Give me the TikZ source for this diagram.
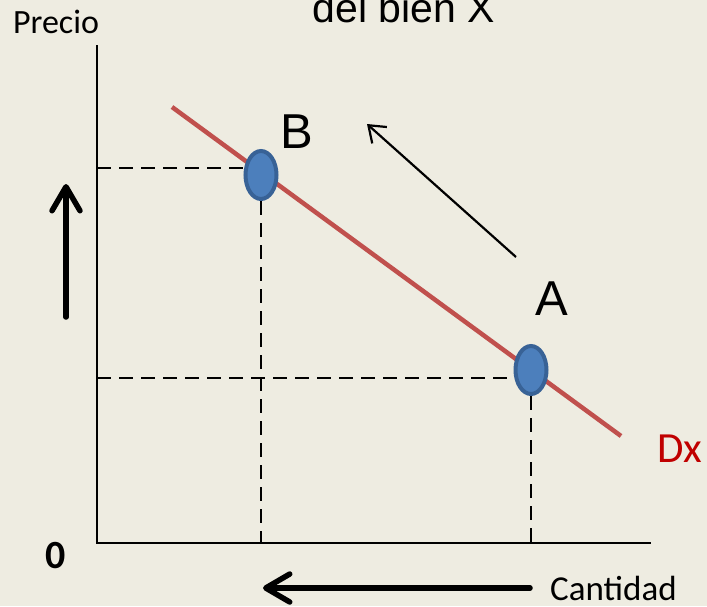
\documentclass[tikz,border=0pt]{standalone}
\usepackage{fontspec}
\setmainfont{Carlito}
\newfontfamily\arialf{Liberation Sans}
\usetikzlibrary{shapes.geometric,arrows.meta}
\definecolor{bg}{RGB}{238,236,225}
\definecolor{dline}{RGB}{192,80,77}
\definecolor{ptfill}{RGB}{76,127,188}
\definecolor{ptdraw}{RGB}{56,98,150}
\definecolor{dxred}{RGB}{192,0,0}
\tikzset{
  axisline/.style={line width=2pt, black},
  guide/.style={line width=2.2pt, black, dash pattern=on 14pt off 8pt},
  demand/.style={line width=4.5pt, dline},
  pointnode/.style={ellipse, draw=ptdraw, fill=ptfill, line width=4pt, minimum width=31pt, minimum height=48pt, inner sep=0pt},
  bigarrow/.style={line width=5.5pt, line cap=round, -{Straight Barb[length=24pt,width=28pt,line cap=round,round]}},
  thinarrow/.style={line width=2.2pt, -{Straight Barb[length=15pt,width=22pt]}},
  lbl/.style={inner sep=0pt, anchor=base}
}
\begin{document}
\begin{tikzpicture}[x=1pt,y=-1pt]
\fill[bg] (0,0) rectangle (707,606);
\useasboundingbox (0,0) rectangle (707,606);

% axes
\coordinate (ytop) at (97,45);
\coordinate (orig) at (97,543);
\coordinate (xend) at (651,543);
\draw[axisline] (ytop) -- (orig) -- (xend);

% dashed guides
\coordinate (gBl) at (97,168);
\coordinate (gBr) at (246,168);
\coordinate (gAl) at (97,378);
\coordinate (gAr) at (516,378);
\coordinate (gBb) at (261,543);
\coordinate (gAb) at (531,543);
\draw[guide] (gBl) -- (gBr);
\draw[guide] (gAl) -- (gAr);

% demand curve
\coordinate (dS) at (172,107);
\coordinate (dE) at (621,436);
\draw[demand] (dS) -- (dE);

% points
\node[pointnode] (pB) at (261,175) {};
\node[pointnode] (pA) at (531,370) {};
\draw[guide] (pB.south) -- (gBb);
\draw[guide] (pA.south) -- (gAb);

% arrows
\coordinate (tS) at (516,257);
\coordinate (tE) at (367,124);
\draw[thinarrow] (tS) -- (tE);
\coordinate (uS) at (66,317);
\coordinate (uE) at (66,184);
\draw[bigarrow] (uS) -- (uE);
\coordinate (lS) at (530,588);
\coordinate (lE) at (263,588);
\draw[bigarrow] (lS) -- (lE);

% labels
\node[lbl] (precio) at (56,33) {\fontsize{34}{40}\selectfont Precio};
\node[lbl] (title) at (404,22) {\arialf\fontsize{41}{48}\selectfont del bien X};
\node[lbl] (labB) at (297,148) {\arialf\fontsize{49}{56}\selectfont B};
\node[lbl] (labA) at (552,315) {\arialf\fontsize{49}{56}\selectfont A};
\node[lbl, anchor=base west, text=dxred] (dx) at (657,462) {\fontsize{43}{50}\selectfont Dx};
\node[lbl] (zero) at (56,568) {\fontsize{40}{46}\selectfont\bfseries 0};
\node[lbl, anchor=base west] (cant) at (550,600) {\fontsize{35}{42}\selectfont Cantidad};
\end{tikzpicture}
\end{document}
